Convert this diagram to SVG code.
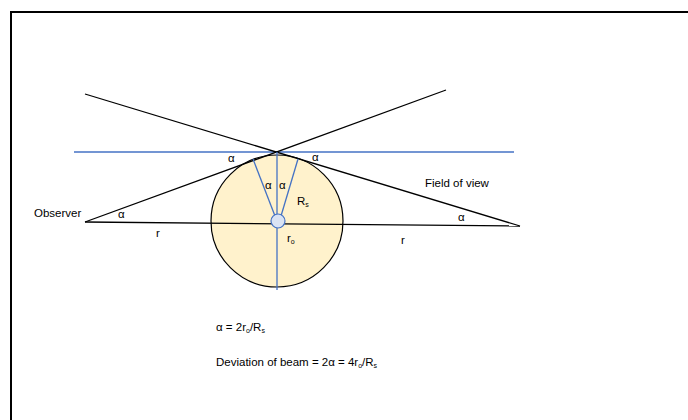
<svg xmlns="http://www.w3.org/2000/svg" width="688" height="420" viewBox="0 0 688 420">
<style>
.t{font-family:"Liberation Sans",Arial,sans-serif;font-size:11.5px;fill:#000}
.s{font-size:7px}
.k{stroke:#000;stroke-width:1.3;fill:none}
.b{stroke:#4472C4;stroke-width:1.3;fill:none}
</style>
<rect x="0" y="0" width="688" height="420" fill="#fff"/>
<path d="M11 420 V12 H690" fill="none" stroke="#000" stroke-width="2"/>
<g id="sphere">
<circle cx="277" cy="221" r="66" fill="#FFF2CC" stroke="#000" stroke-width="1.2"/>
</g>
<g id="connectors">
<line class="b" x1="74" y1="152" x2="514" y2="152"/>
<line class="k" x1="85" y1="94" x2="520" y2="226"/>
<line class="k" x1="446" y1="90" x2="85" y2="222"/>
<line class="k" x1="85" y1="222" x2="520" y2="226"/>
<line class="b" x1="277" y1="152" x2="277" y2="290"/>
<line class="b" x1="253" y1="159" x2="275" y2="216"/>
<line class="b" x1="298" y1="159" x2="281" y2="216"/>
</g>
<g id="observer-mass">
<circle cx="278" cy="221" r="7" fill="#DAE3F3" stroke="#4472C4" stroke-width="1.2"/>
</g>
<g id="labels">
<text class="t" x="228" y="162">α</text>
<text class="t" x="312" y="161">α</text>
<text class="t" x="265" y="189">α</text>
<text class="t" x="279" y="189">α</text>
<text class="t" x="297" y="205">R<tspan class="s" dy="2">s</tspan></text>
<text class="t" x="287" y="242">r<tspan class="s" dy="2">o</tspan></text>
<text class="t" x="118" y="218">α</text>
<text class="t" x="458" y="221">α</text>
<text class="t" x="156" y="237">r</text>
<text class="t" x="401" y="244">r</text>
<text class="t" x="34" y="217">Observer</text>
<text class="t" x="425" y="187">Field of view</text>
<text class="t" x="216" y="331">α = 2r<tspan class="s" dy="2">o</tspan><tspan dy="-2">/R</tspan><tspan class="s" dy="2">s</tspan></text>
<text class="t" x="216" y="366">Deviation of beam = 2α = 4r<tspan class="s" dy="2">o</tspan><tspan dy="-2">/R</tspan><tspan class="s" dy="2">s</tspan></text>
</g>
</svg>
